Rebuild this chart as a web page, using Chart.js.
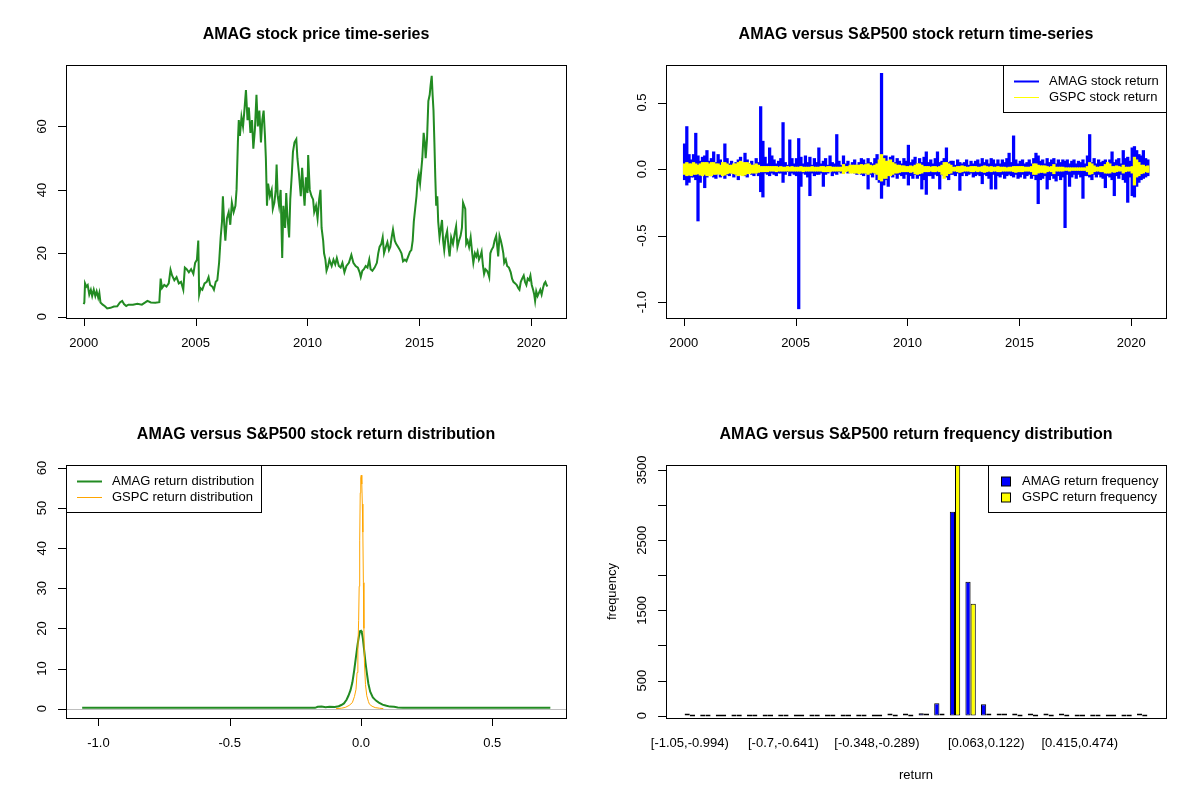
<!DOCTYPE html>
<html>
<head>
<meta charset="utf-8">
<script src="https://cdn.jsdelivr.net/npm/chart.js@4.4.0/dist/chart.umd.min.js"></script>
<style>
  body { margin: 0; background: #fff; }
  #grid { width: 1200px; height: 800px; display: grid; grid-template-columns: 600px 600px; grid-template-rows: 400px 400px; }
  canvas { display: block; }
</style>
</head>
<body>
<div id="grid">
  <canvas id="priceChart" width="600" height="400"></canvas>
  <canvas id="returnChart" width="600" height="400"></canvas>
  <canvas id="densityChart" width="600" height="400"></canvas>
  <canvas id="freqChart" width="600" height="400"></canvas>
</div>
<script>
const FONT = '"Liberation Sans", Arial, sans-serif';

// --- panel 1: AMAG price ---
const priceYears = [
  2000.00, 2000.03, 2000.06, 2000.12, 2000.18, 2000.25, 2000.32, 2000.38, 2000.45, 2000.52,
  2000.58, 2000.65, 2000.70, 2000.75, 2000.85, 2000.95, 2001.05, 2001.20, 2001.35, 2001.50,
  2001.62, 2001.72, 2001.80, 2001.90, 2002.00, 2002.20, 2002.40, 2002.60, 2002.75, 2002.85,
  2003.00, 2003.20, 2003.38, 2003.44, 2003.50, 2003.60, 2003.70, 2003.80, 2003.88, 2003.95,
  2004.05, 2004.15, 2004.25, 2004.35, 2004.45, 2004.52, 2004.60, 2004.70, 2004.80, 2004.90,
  2004.98, 2005.06, 2005.12, 2005.16, 2005.22, 2005.30, 2005.40, 2005.50, 2005.58, 2005.65,
  2005.75, 2005.82, 2005.90, 2005.97, 2006.05, 2006.12, 2006.18, 2006.22, 2006.28, 2006.33,
  2006.40, 2006.48, 2006.55, 2006.62, 2006.70, 2006.78, 2006.83, 2006.89, 2006.93, 2006.98,
  2007.05, 2007.12, 2007.18, 2007.25, 2007.32, 2007.38, 2007.45, 2007.52, 2007.58, 2007.65,
  2007.72, 2007.78, 2007.85, 2007.92, 2007.98, 2008.04, 2008.10, 2008.14, 2008.19, 2008.24,
  2008.32, 2008.40, 2008.45, 2008.52, 2008.58, 2008.62, 2008.67, 2008.73, 2008.80, 2008.87,
  2008.92, 2009.00, 2009.05, 2009.10, 2009.18, 2009.23, 2009.30, 2009.35, 2009.42, 2009.50,
  2009.55, 2009.62, 2009.70, 2009.76, 2009.82, 2009.87, 2009.93, 2010.00, 2010.03, 2010.10,
  2010.18, 2010.25, 2010.30, 2010.38, 2010.45, 2010.52, 2010.58, 2010.63, 2010.70, 2010.74,
  2010.80, 2010.85, 2010.92, 2010.98, 2011.08, 2011.16, 2011.24, 2011.31, 2011.40, 2011.48,
  2011.56, 2011.65, 2011.74, 2011.85, 2011.96, 2012.05, 2012.15, 2012.25, 2012.33, 2012.38,
  2012.45, 2012.52, 2012.60, 2012.68, 2012.76, 2012.82, 2012.90, 2013.00, 2013.10, 2013.16,
  2013.22, 2013.30, 2013.36, 2013.42, 2013.50, 2013.57, 2013.64, 2013.70, 2013.76, 2013.82,
  2013.90, 2013.96, 2014.05, 2014.13, 2014.20, 2014.27, 2014.35, 2014.42, 2014.50, 2014.58,
  2014.64, 2014.70, 2014.75, 2014.81, 2014.87, 2014.92, 2014.97, 2015.03, 2015.08, 2015.13,
  2015.19, 2015.24, 2015.28, 2015.34, 2015.40, 2015.46, 2015.50, 2015.55, 2015.59, 2015.63,
  2015.67, 2015.71, 2015.75, 2015.80, 2015.84, 2015.90, 2015.96, 2016.01, 2016.06, 2016.11,
  2016.17, 2016.24, 2016.30, 2016.35, 2016.42, 2016.50, 2016.57, 2016.64, 2016.70, 2016.77,
  2016.84, 2016.90, 2016.95, 2017.00, 2017.05, 2017.09, 2017.15, 2017.22, 2017.29, 2017.36,
  2017.41, 2017.48, 2017.54, 2017.60, 2017.66, 2017.72, 2017.78, 2017.84, 2017.89, 2017.95,
  2018.02, 2018.08, 2018.12, 2018.17, 2018.22, 2018.30, 2018.36, 2018.43, 2018.48, 2018.52,
  2018.58, 2018.64, 2018.70, 2018.75, 2018.79, 2018.86, 2018.92, 2019.00, 2019.08, 2019.14,
  2019.20, 2019.28, 2019.35, 2019.42, 2019.47, 2019.53, 2019.59, 2019.66, 2019.72, 2019.78,
  2019.84, 2019.90, 2019.96, 2020.02, 2020.08, 2020.13, 2020.17, 2020.22, 2020.28, 2020.34,
  2020.40, 2020.46, 2020.52, 2020.58, 2020.63, 2020.68, 2020.72
];
const priceValues = [
  4.0, 4.5, 10.5, 9.5, 10.0, 7.0, 8.5, 6.5, 8.5, 6.5,
  8.0, 6.0, 7.5, 4.5, 3.8, 3.3, 2.6, 2.8, 3.2, 3.3,
  4.5, 5.0, 4.0, 3.4, 3.8, 3.8, 4.1, 3.8, 4.5, 5.0,
  4.5, 4.4, 4.6, 12.0, 9.0, 10.0, 9.5, 10.5, 14.8, 13.0,
  11.5, 12.5, 10.5, 11.0, 8.5, 15.5, 15.0, 14.0, 15.0, 13.5,
  17.0, 18.0, 24.0, 7.0, 9.0, 8.5, 10.5, 11.0, 12.5, 10.0,
  9.5, 8.5, 11.0, 11.5, 17.0, 25.0, 30.0, 38.0, 29.0, 24.0,
  31.0, 33.0, 29.0, 36.0, 33.0, 35.0, 40.0, 55.0, 62.0, 57.0,
  63.0, 60.0, 65.0, 71.5, 62.0, 66.0, 58.0, 62.0, 53.0, 59.0,
  70.0, 60.0, 65.0, 55.0, 62.0, 65.0, 57.0, 50.0, 35.0, 42.0,
  38.0, 40.0, 34.0, 36.0, 40.0, 48.0, 38.0, 35.0, 40.0, 18.5,
  35.0, 28.0, 39.0, 32.0, 25.0, 37.0, 45.0, 52.0, 55.0, 56.0,
  50.0, 45.0, 38.0, 47.0, 40.0, 35.0, 44.0, 39.0, 51.0, 40.0,
  38.0, 37.0, 33.0, 35.0, 31.0, 37.0, 40.0, 28.0, 24.0, 20.0,
  18.0, 14.5, 16.0, 18.0, 16.0, 18.0, 16.5, 18.5, 16.0, 15.5,
  17.0, 14.0, 16.0, 17.0, 19.5, 17.0, 16.0, 15.5, 14.0, 12.5,
  14.5, 15.0, 16.0, 15.5, 18.0, 15.0, 14.5, 15.5, 17.0, 20.0,
  22.0, 23.0, 25.0, 20.0, 22.0, 23.5, 21.0, 22.0, 25.0, 27.5,
  24.0, 23.0, 22.0, 21.0, 20.0, 17.5, 18.0, 17.5, 19.0, 20.5,
  21.0, 24.0, 30.0, 34.0, 38.0, 43.0, 45.0, 42.0, 46.0, 50.0,
  58.0, 55.0, 50.0, 56.0, 68.0, 70.0, 73.0, 76.0, 70.0, 65.0,
  55.0, 44.0, 35.0, 38.0, 30.0, 25.0, 28.0, 30.5, 24.0, 21.0,
  25.0, 27.0, 22.0, 19.0, 25.0, 23.0, 26.0, 28.5, 22.0, 24.0,
  25.5, 28.0, 36.0, 35.0, 34.0, 23.0, 24.0, 22.0, 25.0, 20.0,
  17.0, 20.0, 19.0, 20.5, 18.0, 19.0, 20.5, 16.0, 13.5, 15.0,
  14.5, 13.5, 12.5, 20.0, 21.0, 22.0, 24.0, 25.5, 22.0, 19.0,
  25.5, 24.0, 22.0, 20.0, 17.0, 18.0, 16.0, 15.5, 14.0, 12.0,
  11.0, 10.5, 10.0, 9.0, 8.5, 11.0, 12.0, 13.0, 11.0, 10.0,
  12.0, 11.5, 13.0, 10.0, 8.5, 7.0, 5.0, 8.0, 6.5, 7.5,
  8.5, 7.0, 9.0, 10.5, 11.0, 10.0, 9.5
];
const yearTicks = [2000, 2005, 2010, 2015, 2020];
const priceYTicks = [0, 20, 40, 60];

// --- panel 2: daily returns, range (low/high) of each 0.1-year slice from 2000.0 ---
const returnStart = 2000;
const returnStep = 0.1;
const amagHigh = [
  0.19, 0.32, 0.11, 0.07, 0.11, 0.27, 0.10, 0.06, 0.09, 0.10,
  0.14, 0.06, 0.08, 0.13, 0.05, 0.11, 0.07, 0.04, 0.19, 0.08,
  0.04, 0.06, 0.03, 0.05, 0.07, 0.09, 0.04, 0.12, 0.07, 0.04,
  0.06, 0.03, 0.08, 0.05, 0.47, 0.21, 0.09, 0.04, 0.16, 0.10,
  0.07, 0.04, 0.06, 0.08, 0.35, 0.05, 0.03, 0.22, 0.08, 0.04,
  0.08, 0.23, 0.09, 0.04, 0.10, 0.05, 0.09, 0.03, 0.08, 0.05,
  0.16, 0.04, 0.06, 0.08, 0.03, 0.10, 0.05, 0.04, 0.26, 0.06,
  0.03, 0.10, 0.04, 0.06, 0.03, 0.05, 0.07, 0.03, 0.05, 0.08,
  0.07, 0.04, 0.08, 0.05, 0.04, 0.08, 0.11, 0.06, 0.72, 0.10,
  0.10, 0.05, 0.09, 0.10, 0.05, 0.08, 0.06, 0.04, 0.08, 0.06,
  0.18, 0.05, 0.07, 0.09, 0.04, 0.08, 0.05, 0.09, 0.13, 0.05,
  0.07, 0.04, 0.08, 0.13, 0.05, 0.06, 0.08, 0.16, 0.05, 0.06,
  0.06, 0.03, 0.07, 0.05, 0.04, 0.05, 0.07, 0.03, 0.06, 0.04,
  0.06, 0.07, 0.04, 0.08, 0.05, 0.07, 0.04, 0.08, 0.07, 0.04,
  0.07, 0.04, 0.07, 0.05, 0.08, 0.12, 0.05, 0.25, 0.07, 0.04,
  0.06, 0.07, 0.04, 0.05, 0.07, 0.04, 0.08, 0.12, 0.10, 0.06,
  0.07, 0.04, 0.08, 0.05, 0.07, 0.08, 0.04, 0.07, 0.05, 0.07,
  0.06, 0.07, 0.04, 0.06, 0.07, 0.04, 0.06, 0.05, 0.07, 0.04,
  0.10, 0.26, 0.05, 0.08, 0.04, 0.07, 0.05, 0.06, 0.07, 0.04,
  0.07, 0.13, 0.05, 0.07, 0.08, 0.04, 0.14, 0.08, 0.09, 0.06,
  0.16, 0.17, 0.14, 0.11, 0.10, 0.14, 0.08, 0.07
];
const amagLow = [
  -0.08, -0.12, -0.10, -0.06, -0.06, -0.08, -0.39, -0.10, -0.05, -0.14,
  -0.06, -0.04, -0.05, -0.06, -0.07, -0.03, -0.06, -0.05, -0.07, -0.04,
  -0.05, -0.03, -0.06, -0.04, -0.08, -0.03, -0.04, -0.05, -0.06, -0.03,
  -0.04, -0.05, -0.03, -0.05, -0.17, -0.21, -0.03, -0.04, -0.05, -0.03,
  -0.04, -0.05, -0.03, -0.03, -0.10, -0.04, -0.02, -0.05, -0.03, -0.04,
  -0.05, -1.05, -0.13, -0.03, -0.04, -0.06, -0.20, -0.03, -0.05, -0.04,
  -0.04, -0.03, -0.13, -0.04, -0.03, -0.02, -0.05, -0.03, -0.04, -0.02,
  -0.03, -0.02, -0.02, -0.03, -0.02, -0.02, -0.03, -0.04, -0.02, -0.04,
  -0.05, -0.03, -0.15, -0.04, -0.06, -0.03, -0.08, -0.10, -0.22, -0.12,
  -0.08, -0.13, -0.05, -0.06, -0.04, -0.07, -0.04, -0.05, -0.07, -0.04,
  -0.12, -0.05, -0.07, -0.04, -0.07, -0.05, -0.15, -0.08, -0.19, -0.05,
  -0.05, -0.07, -0.04, -0.05, -0.15, -0.04, -0.05, -0.06, -0.08, -0.04,
  -0.04, -0.05, -0.03, -0.16, -0.05, -0.03, -0.05, -0.04, -0.03, -0.06,
  -0.05, -0.04, -0.05, -0.11, -0.04, -0.05, -0.07, -0.15, -0.04, -0.15,
  -0.05, -0.06, -0.04, -0.07, -0.05, -0.04, -0.05, -0.06, -0.04, -0.07,
  -0.06, -0.04, -0.07, -0.05, -0.04, -0.07, -0.05, -0.08, -0.26, -0.08,
  -0.07, -0.05, -0.15, -0.08, -0.05, -0.07, -0.09, -0.05, -0.08, -0.06,
  -0.44, -0.04, -0.13, -0.06, -0.04, -0.07, -0.04, -0.06, -0.22, -0.05,
  -0.05, -0.06, -0.08, -0.04, -0.06, -0.04, -0.06, -0.07, -0.14, -0.05,
  -0.06, -0.08, -0.20, -0.05, -0.07, -0.04, -0.08, -0.10, -0.25, -0.06,
  -0.20, -0.21, -0.13, -0.10, -0.08, -0.07, -0.06, -0.05
];
const gspcHigh = [
  0.04, 0.05, 0.04, 0.04, 0.05, 0.04, 0.03, 0.04, 0.05, 0.05,
  0.05, 0.04, 0.05, 0.05, 0.04, 0.04, 0.03, 0.05, 0.05, 0.04,
  0.03, 0.03, 0.04, 0.04, 0.05, 0.06, 0.05, 0.05, 0.05, 0.04,
  0.03, 0.03, 0.04, 0.03, 0.02, 0.02, 0.02, 0.02, 0.02, 0.02,
  0.02, 0.02, 0.015, 0.02, 0.015, 0.015, 0.02, 0.015, 0.02, 0.015,
  0.015, 0.015, 0.02, 0.015, 0.015, 0.015, 0.015, 0.02, 0.015, 0.015,
  0.015, 0.02, 0.02, 0.015, 0.02, 0.02, 0.015, 0.015, 0.015, 0.015,
  0.015, 0.035, 0.02, 0.02, 0.03, 0.03, 0.03, 0.03, 0.03, 0.035,
  0.03, 0.035, 0.04, 0.03, 0.025, 0.03, 0.04, 0.07, 0.11, 0.08,
  0.06, 0.06, 0.07, 0.05, 0.04, 0.03, 0.03, 0.025, 0.025, 0.02,
  0.02, 0.025, 0.02, 0.03, 0.04, 0.04, 0.03, 0.02, 0.02, 0.02,
  0.015, 0.02, 0.02, 0.015, 0.02, 0.03, 0.05, 0.05, 0.04, 0.03,
  0.015, 0.015, 0.02, 0.02, 0.025, 0.02, 0.015, 0.015, 0.02, 0.02,
  0.02, 0.015, 0.015, 0.02, 0.025, 0.02, 0.015, 0.02, 0.015, 0.015,
  0.02, 0.015, 0.015, 0.015, 0.01, 0.015, 0.015, 0.02, 0.02, 0.02,
  0.02, 0.02, 0.015, 0.015, 0.015, 0.02, 0.04, 0.04, 0.03, 0.025,
  0.025, 0.025, 0.02, 0.015, 0.02, 0.035, 0.015, 0.015, 0.015, 0.015,
  0.01, 0.01, 0.01, 0.01, 0.01, 0.01, 0.01, 0.01, 0.01, 0.01,
  0.02, 0.05, 0.04, 0.025, 0.015, 0.015, 0.02, 0.02, 0.035, 0.05,
  0.04, 0.02, 0.02, 0.025, 0.02, 0.015, 0.03, 0.015, 0.015, 0.015,
  0.02, 0.09, 0.07, 0.05, 0.03, 0.03, 0.02, 0.025
];
const gspcLow = [
  -0.04, -0.05, -0.045, -0.05, -0.04, -0.04, -0.035, -0.045, -0.05, -0.04,
  -0.05, -0.05, -0.05, -0.04, -0.04, -0.035, -0.04, -0.05, -0.045, -0.035,
  -0.03, -0.03, -0.035, -0.04, -0.05, -0.045, -0.05, -0.045, -0.035, -0.035,
  -0.03, -0.03, -0.03, -0.025, -0.02, -0.02, -0.02, -0.02, -0.015, -0.015,
  -0.015, -0.02, -0.015, -0.015, -0.015, -0.015, -0.015, -0.015, -0.015, -0.015,
  -0.015, -0.015, -0.015, -0.02, -0.015, -0.015, -0.015, -0.015, -0.015, -0.015,
  -0.015, -0.015, -0.02, -0.02, -0.02, -0.02, -0.015, -0.015, -0.015, -0.015,
  -0.015, -0.035, -0.02, -0.015, -0.03, -0.03, -0.03, -0.03, -0.035, -0.03,
  -0.03, -0.03, -0.04, -0.03, -0.025, -0.03, -0.04, -0.08, -0.09, -0.07,
  -0.07, -0.05, -0.05, -0.04, -0.03, -0.03, -0.025, -0.02, -0.02, -0.02,
  -0.02, -0.025, -0.02, -0.035, -0.04, -0.035, -0.03, -0.02, -0.02, -0.02,
  -0.015, -0.02, -0.02, -0.015, -0.02, -0.04, -0.07, -0.05, -0.035, -0.03,
  -0.015, -0.015, -0.02, -0.025, -0.02, -0.015, -0.015, -0.015, -0.02, -0.02,
  -0.015, -0.02, -0.015, -0.02, -0.025, -0.02, -0.015, -0.02, -0.015, -0.015,
  -0.02, -0.02, -0.015, -0.015, -0.015, -0.015, -0.015, -0.02, -0.025, -0.02,
  -0.02, -0.02, -0.015, -0.015, -0.015, -0.02, -0.04, -0.04, -0.03, -0.025,
  -0.025, -0.03, -0.02, -0.015, -0.02, -0.035, -0.015, -0.015, -0.015, -0.015,
  -0.01, -0.01, -0.015, -0.01, -0.01, -0.01, -0.01, -0.01, -0.01, -0.01,
  -0.02, -0.04, -0.035, -0.02, -0.015, -0.015, -0.02, -0.02, -0.03, -0.03,
  -0.03, -0.02, -0.025, -0.02, -0.015, -0.015, -0.03, -0.02, -0.015, -0.015,
  -0.03, -0.12, -0.06, -0.05, -0.035, -0.03, -0.02, -0.025
];
const returnYTicks = [-1.0, -0.5, 0.0, 0.5];
const returnYLabels = ['-1.0', '-0.5', '0.0', '0.5'];

// --- panel 3: return densities ---
const amagDensX = [-1.062, -0.60, -0.30, -0.175, -0.165, -0.15, -0.135, -0.12, -0.10, -0.085,
  -0.075, -0.065, -0.055, -0.048, -0.04, -0.033, -0.026, -0.019, -0.013, -0.008,
  -0.004, 0.0, 0.003, 0.007, 0.012, 0.017, 0.022, 0.028, 0.035, 0.045,
  0.057, 0.068, 0.082, 0.097, 0.11, 0.126, 0.14, 0.16, 0.40, 0.721];
const amagDensY = [0.2, 0.2, 0.2, 0.2, 0.45, 0.5, 0.35, 0.45, 0.4, 0.6,
  0.9, 1.3, 2.2, 3.2, 4.6, 6.5, 9.5, 13, 16, 18,
  19.3, 19.4, 19.0, 17.5, 14.5, 11.5, 9, 6.2, 4.2, 2.8,
  2.0, 1.5, 1.0, 0.7, 0.5, 0.45, 0.3, 0.2, 0.2, 0.2];
const gspcDensX = [-0.095, -0.075, -0.06, -0.045, -0.033, -0.025, -0.019, -0.015, -0.012, -0.009,
  -0.007, -0.005, -0.003, -0.001, 0.001, 0.003, 0.005, 0.007, 0.009, 0.011,
  0.013, 0.017, 0.022, 0.028, 0.032, 0.042, 0.054, 0.07, 0.085];
const gspcDensY = [0, 0.1, 0.3, 0.8, 1.5, 3, 4.8, 9, 14.8, 22,
  30.5, 42, 53.8, 57.5, 58.2, 56, 51, 44, 31.4, 20,
  11.5, 6, 3.2, 1.8, 1.1, 0.6, 0.25, 0.1, 0];
const densXTicks = [-1.0, -0.5, 0.0, 0.5];
const densXLabels = ['-1.0', '-0.5', '0.0', '0.5'];
const densYTicks = [0, 10, 20, 30, 40, 50, 60];

// --- panel 4: return frequency by bin ---
const binLabels = [
  '[-1.05,-0.994)', '[-0.994,-0.935)', '[-0.935,-0.876)', '[-0.876,-0.818)', '[-0.818,-0.759)',
  '[-0.759,-0.7)', '[-0.7,-0.641)', '[-0.641,-0.583)', '[-0.583,-0.524)', '[-0.524,-0.465)',
  '[-0.465,-0.407)', '[-0.407,-0.348)', '[-0.348,-0.289)', '[-0.289,-0.231)', '[-0.231,-0.172)',
  '[-0.172,-0.113)', '[-0.113,-0.0546)', '[-0.0546,0.00411)', '[0.00411,0.063)', '[0.063,0.122)',
  '[0.122,0.18)', '[0.18,0.239)', '[0.239,0.298)', '[0.298,0.356)', '[0.356,0.415)',
  '[0.415,0.474)', '[0.474,0.532)', '[0.532,0.591)', '[0.591,0.65)', '[0.65,0.709]'
];
const amagFreq = [1, 0, 0, 0, 0, 0, 0, 0, 0, 0, 0, 0, 0, 3, 14, 33, 176, 2905, 1907, 161, 16, 12, 12, 2, 1, 0, 0, 0, 0, 1];
const gspcFreq = [0, 0, 0, 0, 0, 0, 0, 0, 0, 0, 0, 0, 0, 0, 0, 2, 15, 3600, 1593, 14, 2, 0, 0, 0, 0, 0, 0, 0, 0, 0];
const binLabelShown = [0, 6, 12, 19, 25];
const freqYTicks = [0, 500, 1000, 1500, 2000, 2500, 3000, 3500];
const freqYLabels = ['0', '500', '', '1500', '', '2500', '', '3500'];

// draws the base-R look: box, outward ticks, rotated y labels, title, legend
function rFrame(opt) {
  return {
    id: 'rFrame',
    beforeDatasetsDraw(chart) {
      if (!opt.zeroLine) return;
      const ctx = chart.ctx, a = chart.chartArea;
      const y = Math.round(chart.scales.y.getPixelForValue(0)) + 0.5;
      ctx.save();
      ctx.strokeStyle = '#bebebe';
      ctx.lineWidth = 1;
      ctx.beginPath(); ctx.moveTo(a.left, y); ctx.lineTo(a.right, y); ctx.stroke();
      ctx.restore();
    },
    afterDraw(chart) {
      const ctx = chart.ctx, a = chart.chartArea;
      const xs = chart.scales.x, ys = chart.scales.y;
      const ext = (opt.boxExtend || 0) * a.width;
      const box = { left: a.left - ext, right: a.right + ext, top: a.top, bottom: a.bottom };
      ctx.save();
      ctx.strokeStyle = '#000';
      ctx.fillStyle = '#000';
      ctx.lineWidth = 1;
      ctx.strokeRect(Math.round(box.left) + 0.5, Math.round(box.top) + 0.5,
        Math.round(box.right - box.left), Math.round(box.bottom - box.top));

      ctx.font = '13px ' + FONT;
      ctx.textAlign = 'center';
      ctx.textBaseline = 'middle';
      opt.xTicks.forEach((v, i) => {
        const px = xs.getPixelForValue(v);
        if (opt.xTickMarks !== false) {
          const x = Math.round(px) + 0.5;
          ctx.beginPath(); ctx.moveTo(x, box.bottom); ctx.lineTo(x, box.bottom + 8); ctx.stroke();
        }
        if (opt.xLabels[i]) ctx.fillText(opt.xLabels[i], px, box.bottom + 25);
      });
      opt.yTicks.forEach((v, i) => {
        const py = ys.getPixelForValue(v);
        const y = Math.round(py) + 0.5;
        ctx.beginPath(); ctx.moveTo(box.left, y); ctx.lineTo(box.left - 8, y); ctx.stroke();
        if (opt.yLabels[i]) {
          ctx.save();
          ctx.translate(box.left - 24, py);
          ctx.rotate(-Math.PI / 2);
          ctx.fillText(opt.yLabels[i], 0, 0);
          ctx.restore();
        }
      });
      if (opt.xTitle) ctx.fillText(opt.xTitle, (box.left + box.right) / 2, 375);
      if (opt.yTitle) {
        ctx.save();
        ctx.translate(12, (box.top + box.bottom) / 2);
        ctx.rotate(-Math.PI / 2);
        ctx.fillText(opt.yTitle, 0, 0);
        ctx.restore();
      }

      ctx.font = 'bold 16px ' + FONT;
      ctx.fillText(opt.title, (box.left + box.right) / 2, 35);

      if (opt.legend) drawLegend(ctx, box, opt.legend);
      ctx.restore();
    }
  };
}

function drawLegend(ctx, box, lg) {
  ctx.font = '13px ' + FONT;
  const textW = Math.max(...lg.items.map(it => ctx.measureText(it.label).width));
  const w = Math.round(lg.textOffset + textW + 7);
  const left = Math.round(lg.side === 'right' ? box.right - w : box.left);
  const top = Math.round(box.top);
  ctx.fillStyle = '#fff';
  ctx.fillRect(left, top, w, 47);
  ctx.strokeStyle = '#000';
  ctx.lineWidth = 1;
  ctx.strokeRect(left + 0.5, top + 0.5, w, 47);
  ctx.textAlign = 'left';
  ctx.textBaseline = 'middle';
  lg.items.forEach((it, i) => {
    const y = top + 16.5 + i * 16;
    if (it.kind === 'box') {
      ctx.fillStyle = it.color;
      ctx.fillRect(left + 13.5, y - 4.5, 9, 9);
      ctx.strokeStyle = '#000';
      ctx.lineWidth = 1;
      ctx.strokeRect(left + 13.5, y - 4.5, 9, 9);
    } else {
      ctx.strokeStyle = it.color;
      ctx.lineWidth = it.width;
      ctx.beginPath(); ctx.moveTo(left + 11, y); ctx.lineTo(left + 36, y); ctx.stroke();
    }
    ctx.fillStyle = '#000';
    ctx.fillText(it.label, left + lg.textOffset, y);
  });
}

function baseOptions(padding, xScale, yScale) {
  return {
    responsive: false,
    animation: false,
    devicePixelRatio: 1,
    layout: { padding: padding },
    plugins: { legend: { display: false }, tooltip: { enabled: false }, title: { display: false } },
    elements: { point: { radius: 0 }, line: { tension: 0 } },
    scales: { x: xScale, y: yScale }
  };
}

const linePadding = { left: 66, right: 34, top: 65, bottom: 82 };

// panel 1
new Chart(document.getElementById('priceChart'), {
  type: 'line',
  data: {
    datasets: [{
      data: priceYears.map((x, i) => ({ x: x, y: priceValues[i] })),
      borderColor: '#228B22',
      borderWidth: 2
    }]
  },
  options: baseOptions(linePadding,
    { type: 'linear', display: false, min: 1999.21, max: 2021.55 },
    { display: false, min: -0.41, max: 79.4 }),
  plugins: [rFrame({
    title: 'AMAG stock price time-series',
    xTicks: yearTicks, xLabels: yearTicks.map(String),
    yTicks: priceYTicks, yLabels: priceYTicks.map(String)
  })]
});

// panel 2: each 0.1-year slice of the daily series drawn as its low..high stroke
const returnRange = (lo, hi) => lo.map((v, i) => ({ x: returnStart + (i + 0.4) * returnStep, y: [v, hi[i]] }));
new Chart(document.getElementById('returnChart'), {
  type: 'bar',
  data: {
    datasets: [
      { label: 'GSPC stock return', data: returnRange(gspcLow, gspcHigh), backgroundColor: '#FFFF00', order: 1 },
      { label: 'AMAG stock return', data: returnRange(amagLow, amagHigh), backgroundColor: '#0000FF', order: 2 }
    ]
  },
  options: (() => {
    const o = baseOptions(linePadding,
      { type: 'linear', display: false, offset: false, min: 1999.21, max: 2021.55 },
      { display: false, min: -1.119, max: 0.7825 });
    o.datasets = { bar: { grouped: false, barThickness: 2.6, borderWidth: 0 } };
    return o;
  })(),
  plugins: [rFrame({
    title: 'AMAG versus S&P500 stock return time-series',
    xTicks: yearTicks, xLabels: yearTicks.map(String),
    yTicks: returnYTicks, yLabels: returnYLabels,
    legend: {
      side: 'right', textOffset: 46,
      items: [
        { label: 'AMAG stock return', color: '#0000FF', width: 2 },
        { label: 'GSPC stock return', color: '#FFFF00', width: 1 }
      ]
    }
  })]
});

// panel 3
new Chart(document.getElementById('densityChart'), {
  type: 'line',
  data: {
    datasets: [
      { label: 'GSPC return distribution', data: gspcDensX.map((x, i) => ({ x: x, y: gspcDensY[i] })), borderColor: '#FFA500', borderWidth: 1 },
      { label: 'AMAG return distribution', data: amagDensX.map((x, i) => ({ x: x, y: amagDensY[i] })), borderColor: '#228B22', borderWidth: 2 }
    ]
  },
  options: baseOptions(linePadding,
    { type: 'linear', display: false, min: -1.1236, max: 0.7807 },
    { display: false, min: -2.34, max: 60.74 }),
  plugins: [rFrame({
    title: 'AMAG versus S&P500 stock return distribution',
    xTicks: densXTicks, xLabels: densXLabels,
    yTicks: densYTicks, yLabels: densYTicks.map(String),
    zeroLine: true,
    legend: {
      side: 'left', textOffset: 46,
      items: [
        { label: 'AMAG return distribution', color: '#228B22', width: 2 },
        { label: 'GSPC return distribution', color: '#FFA500', width: 1 }
      ]
    }
  })]
});

// panel 4
new Chart(document.getElementById('freqChart'), {
  type: 'bar',
  data: {
    labels: binLabels,
    datasets: [
      { label: 'AMAG return frequency', data: amagFreq, backgroundColor: '#0000FF' },
      { label: 'GSPC return frequency', data: gspcFreq, backgroundColor: '#FFFF00' }
    ]
  },
  options: (() => {
    const o = baseOptions({ left: 82, right: 50, top: 65, bottom: 82 },
      { type: 'category', display: false },
      { display: false, min: -34, max: 3572 });
    o.datasets = { bar: { categoryPercentage: 2 / 3, barPercentage: 1, borderColor: '#000', borderWidth: 1, borderSkipped: false, minBarLength: 2 } };
    return o;
  })(),
  plugins: [rFrame({
    title: 'AMAG versus S&P500 return frequency distribution',
    boxExtend: 3.06 / 90,
    xTicks: binLabelShown, xLabels: binLabelShown.map(i => binLabels[i]), xTickMarks: false,
    yTicks: freqYTicks, yLabels: freqYLabels,
    xTitle: 'return', yTitle: 'frequency',
    legend: {
      side: 'right', textOffset: 34,
      items: [
        { label: 'AMAG return frequency', color: '#0000FF', kind: 'box' },
        { label: 'GSPC return frequency', color: '#FFFF00', kind: 'box' }
      ]
    }
  })]
});
</script>
</body>
</html>
